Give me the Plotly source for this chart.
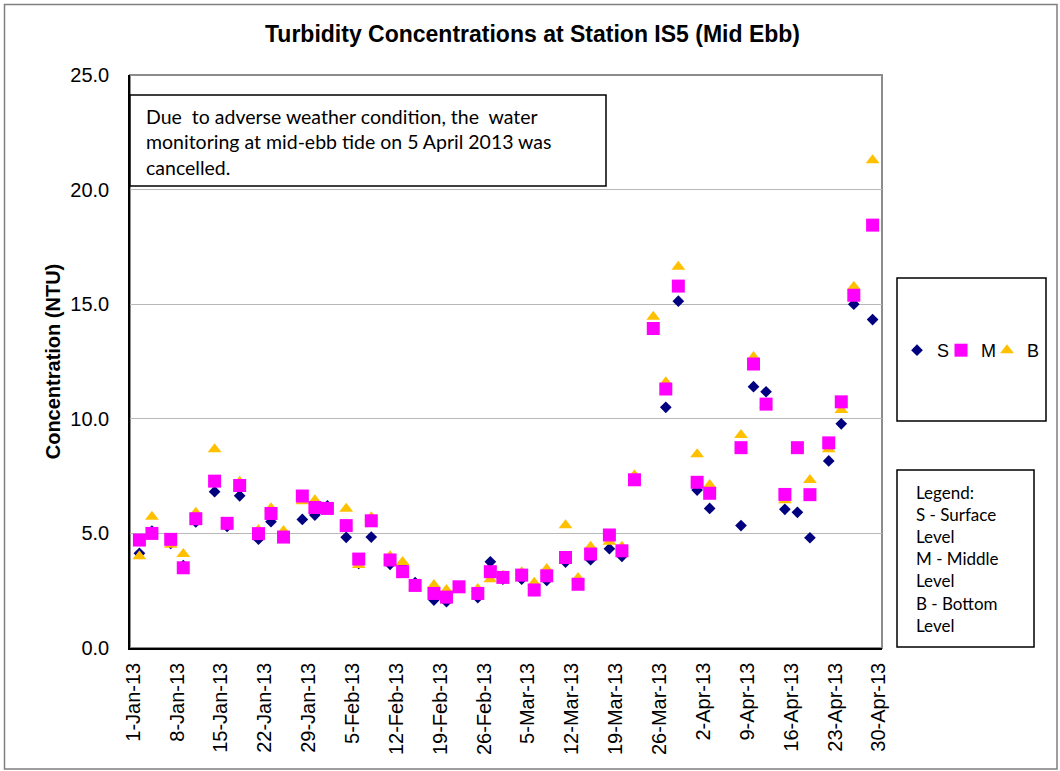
import plotly.graph_objects as go

# sampling dates (Mon / Wed / Fri), 5 April 2013 cancelled
dates = ["2013-01-02", "2013-01-04", "2013-01-07", "2013-01-09", "2013-01-11",
         "2013-01-14", "2013-01-16", "2013-01-18", "2013-01-21", "2013-01-23",
         "2013-01-25", "2013-01-28", "2013-01-30",
         "2013-02-01", "2013-02-04", "2013-02-06", "2013-02-08", "2013-02-11",
         "2013-02-13", "2013-02-15", "2013-02-18", "2013-02-20", "2013-02-22",
         "2013-02-25", "2013-02-27",
         "2013-03-01", "2013-03-04", "2013-03-06", "2013-03-08", "2013-03-11",
         "2013-03-13", "2013-03-15", "2013-03-18", "2013-03-20", "2013-03-22",
         "2013-03-25", "2013-03-27", "2013-03-29",
         "2013-04-01", "2013-04-03", "2013-04-08", "2013-04-10", "2013-04-12",
         "2013-04-15", "2013-04-17", "2013-04-19", "2013-04-22", "2013-04-24",
         "2013-04-26", "2013-04-29"]

surface = [4.13, 5.1, 4.56, 3.6, 5.5, 6.82, 5.3, 6.64, 4.75, 5.51, 4.85, 5.61, 5.8,
           6.2, 4.83, 3.69, 4.84, 3.65, 3.66, 2.85, 2.09, 2.02, 2.65, 2.2, 3.76,
           3.0, 3.0, 2.5, 2.95, 3.75, 2.8, 3.85, 4.33, 4.0, 7.35, 13.9, 10.5, 15.13,
           6.89, 6.09, 5.34, 11.4, 11.18, 6.05, 5.92, 4.81, 8.16, 9.78, 15.0, 14.33]

middle = [4.71, 5.0, 4.74, 3.5, 5.64, 7.28, 5.44, 7.09, 4.99, 5.87, 4.84, 6.63, 6.13,
          6.09, 5.34, 3.88, 5.55, 3.84, 3.33, 2.73, 2.38, 2.22, 2.67, 2.38, 3.33,
          3.08, 3.18, 2.53, 3.15, 3.95, 2.78, 4.1, 4.93, 4.24, 7.34, 13.94, 11.3, 15.79,
          7.23, 6.75, 8.74, 12.39, 10.64, 6.7, 8.74, 6.69, 8.95, 10.74, 15.39, 18.45]

bottom = [4.0, 5.73, 4.5, 4.1, 5.9, 8.67, 5.4, 7.25, 5.15, 6.1, 5.1, 6.4, 6.45,
          6.1, 6.08, 3.62, 5.7, 4.0, 3.75, 2.65, 2.75, 2.53, 2.6, 2.57, 3.0,
          3.15, 3.3, 2.85, 3.45, 5.36, 3.05, 4.42, 4.64, 4.42, 7.54, 14.45, 11.6, 16.63,
          8.45, 7.11, 9.29, 12.7, 10.6, 6.45, 8.7, 7.33, 8.67, 10.38, 15.76, 21.28]

note_lines = ["Due \u00a0to adverse weather condition, the \u00a0water",
              "monitoring at mid-ebb tide on 5 April 2013 was",
              "cancelled."]
key_lines = ["Legend:", "S - Surface", "Level", "M - Middle", "Level",
             "B - Bottom", "Level"]

# plot area in pixels
L, T, R, B = 130, 75, 882, 648
W, H = R - L, B - T


def px(x):
    return (x - L) / W


def py(y):
    return (B - y) / H


fig = go.Figure()

# draw order S, B, M (squares sit on top); each series gets its own legend box
fig.add_trace(go.Scatter(x=dates, y=surface, name="S", mode="markers", legend="legend",
                         marker=dict(symbol="diamond", size=9, color="#000080")))
fig.add_trace(go.Scatter(x=dates, y=bottom, name="B", mode="markers", legend="legend3",
                         marker=dict(symbol="triangle-up", size=12, color="#FFC000")))
fig.add_trace(go.Scatter(x=dates, y=middle, name="M", mode="markers", legend="legend2",
                         marker=dict(symbol="square", size=13, color="#FF00FF")))

shapes = [
    # outer chart border
    dict(type="rect", xref="paper", yref="paper", x0=px(4.5), x1=px(1057), y0=py(769), y1=py(4.5),
         line=dict(color="#7f7f7f", width=1.5), layer="below"),
    # plot area border
    dict(type="rect", xref="paper", yref="paper", x0=0, x1=1, y0=0, y1=1,
         line=dict(color="#8c8c8c", width=2), layer="below"),
    # note box
    dict(type="rect", xref="paper", yref="paper", x0=px(130), x1=px(606), y0=py(186), y1=py(95),
         line=dict(color="black", width=1.5), fillcolor="white", layer="above"),
    # series key box
    dict(type="rect", xref="paper", yref="paper", x0=px(897), x1=px(1046), y0=py(421), y1=py(278),
         line=dict(color="black", width=1.5)),
    # legend text box
    dict(type="rect", xref="paper", yref="paper", x0=px(897), x1=px(1034), y0=py(647), y1=py(470),
         line=dict(color="black", width=1.5)),
]

annotations = [
    dict(text="<br>".join(note_lines), xref="paper", yref="paper", x=px(144), y=py(102.5),
         xanchor="left", yanchor="top", align="left", showarrow=False,
         font=dict(family="Lato", size=19.5, color="black")),
    dict(text="<br>".join(key_lines), xref="paper", yref="paper", x=px(914), y=py(480),
         xanchor="left", yanchor="top", align="left", showarrow=False,
         font=dict(family="Lato", size=17, color="black")),
]


def key(xpix):
    return dict(orientation="h", x=px(xpix), y=py(350.5), xanchor="left", yanchor="middle",
                bgcolor="rgba(0,0,0,0)", font=dict(size=18), itemwidth=30)


fig.update_layout(
    width=1060, height=771,
    margin=dict(l=L, r=1060 - R, t=T, b=771 - B),
    paper_bgcolor="white", plot_bgcolor="white",
    font=dict(family="Liberation Sans, Arial", color="black"),
    title=dict(text="<b>Turbidity Concentrations at Station IS5 (Mid Ebb)</b>",
               x=px(532.5), xref="paper", xanchor="center",
               y=1 - 33.5 / 771, yanchor="middle",
               font=dict(size=23, color="black")),
    showlegend=True,
    legend=key(897),
    legend2=key(941),
    legend3=key(987),
    shapes=shapes,
    annotations=annotations,
)

fig.update_xaxes(
    type="date",
    range=["2012-12-31 12:00", "2013-04-30 12:00"],
    tick0="2013-01-01", dtick=7 * 86400000, tickformat="%-d-%b-%y",
    tickangle=-90, tickfont=dict(size=20), ticklabelstandoff=5,
    showgrid=False, showline=True, linecolor="black", linewidth=1.5,
    ticks="", automargin=False,
)

fig.update_yaxes(
    range=[0, 25], dtick=5, tickformat=".1f", tickfont=dict(size=20),
    showgrid=True, gridcolor="#b8b8b8", gridwidth=1,
    showline=True, linecolor="black", linewidth=1.5, zeroline=False,
    ticks="", ticklabelstandoff=15, automargin=False,
    title=dict(text="<b>Concentration (NTU)</b>", font=dict(size=20), standoff=4),
)

# page body has a default 8px margin; drop it so the figure sits at the window origin
fig.write_html("out.html", config={"displayModeBar": False},
               post_script="document.body.style.margin='0';")
